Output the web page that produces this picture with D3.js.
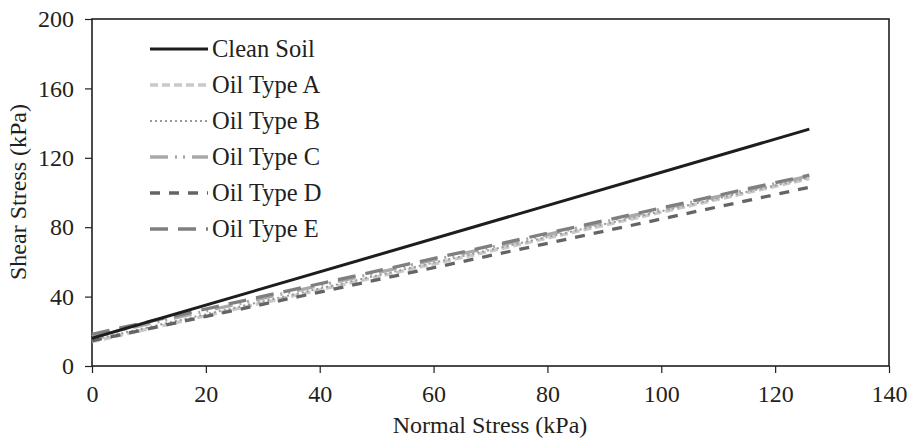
<!DOCTYPE html>
<html><head><meta charset="utf-8">
<script src="https://cdn.jsdelivr.net/npm/d3@7"></script>
<style>body{margin:0;background:#fff}svg{display:block}text{font-family:"Liberation Serif","Times New Roman",serif;fill:#231f20}</style>
</head><body><svg id="c" width="909" height="440"></svg>
<script>
const xTicks=[0,20,40,60,80,100,120,140];
const yTicks=[0,40,80,120,160,200];
const xValues=[0,126];
const seriesNames=["Clean Soil","Oil Type A","Oil Type B","Oil Type C","Oil Type D","Oil Type E"];
const cleanSoil=[16,136.5];
const oilA=[14,108];
const oilB=[15,108.5];
const oilC=[17,109.5];
const oilD=[14.5,103];
const oilE=[18.3,110];
const allSeries=[cleanSoil,oilA,oilB,oilC,oilD,oilE];
const styles=[
 {c:"#1e1c1d",w:3,d:null},
 {c:"#c9c9c9",w:3.3,d:"8,4"},
 {c:"#9a9a9a",w:2,d:"2,3"},
 {c:"#a9a9a9",w:3.3,d:"18,7,2,6,2,7"},
 {c:"#646464",w:3.3,d:"10,9"},
 {c:"#7f7f7f",w:3.3,d:"18,10"}
];
const svg=d3.select("#c");
const L=92,R=889,T=19,B=366;
const x=d3.scaleLinear().domain([0,140]).range([L,R]);
const y=d3.scaleLinear().domain([0,200]).range([B,T]);
const xa=svg.append("g").attr("transform",`translate(0,${B})`).call(d3.axisBottom(x).tickValues(xTicks).tickSize(7).tickPadding(12));
const ya=svg.append("g").attr("transform",`translate(${L},0)`).call(d3.axisLeft(y).tickValues(yTicks).tickSize(7).tickPadding(11));
[xa,ya].forEach(g=>{g.select(".domain").remove();g.selectAll("line").attr("stroke","#231f20").attr("stroke-width",1.2);g.selectAll("text").attr("font-size",24).attr("fill","#231f20").style("font-family",'"Liberation Serif",serif');});
svg.append("rect").attr("x",L).attr("y",T).attr("width",R-L).attr("height",B-T).attr("fill","none").attr("stroke","#231f20").attr("stroke-width",1.6);
const line=d3.line().x((d,i)=>x(xValues[i])).y(d=>y(d));
const order=[1,2,4,3,5,0];
order.forEach(i=>{
 const s=styles[i];
 svg.append("path").attr("d",line(allSeries[i])).attr("fill","none").attr("stroke",s.c).attr("stroke-width",s.w).attr("stroke-dasharray",s.d);
});
const lg=svg.append("g");
seriesNames.forEach((n,i)=>{
 const yy=49+i*36;const s=styles[i];
 lg.append("line").attr("x1",150).attr("x2",208).attr("y1",yy).attr("y2",yy).attr("stroke",s.c).attr("stroke-width",s.w).attr("stroke-dasharray",s.d);
 lg.append("text").attr("x",212).attr("y",yy+8).attr("font-size",24.5).text(n);
});
svg.append("text").attr("x",490).attr("y",433).attr("text-anchor","middle").attr("font-size",24).text("Normal Stress (kPa)");
svg.append("text").attr("transform","translate(26,192) rotate(-90)").attr("text-anchor","middle").attr("font-size",24).text("Shear Stress (kPa)");
</script></body></html>
